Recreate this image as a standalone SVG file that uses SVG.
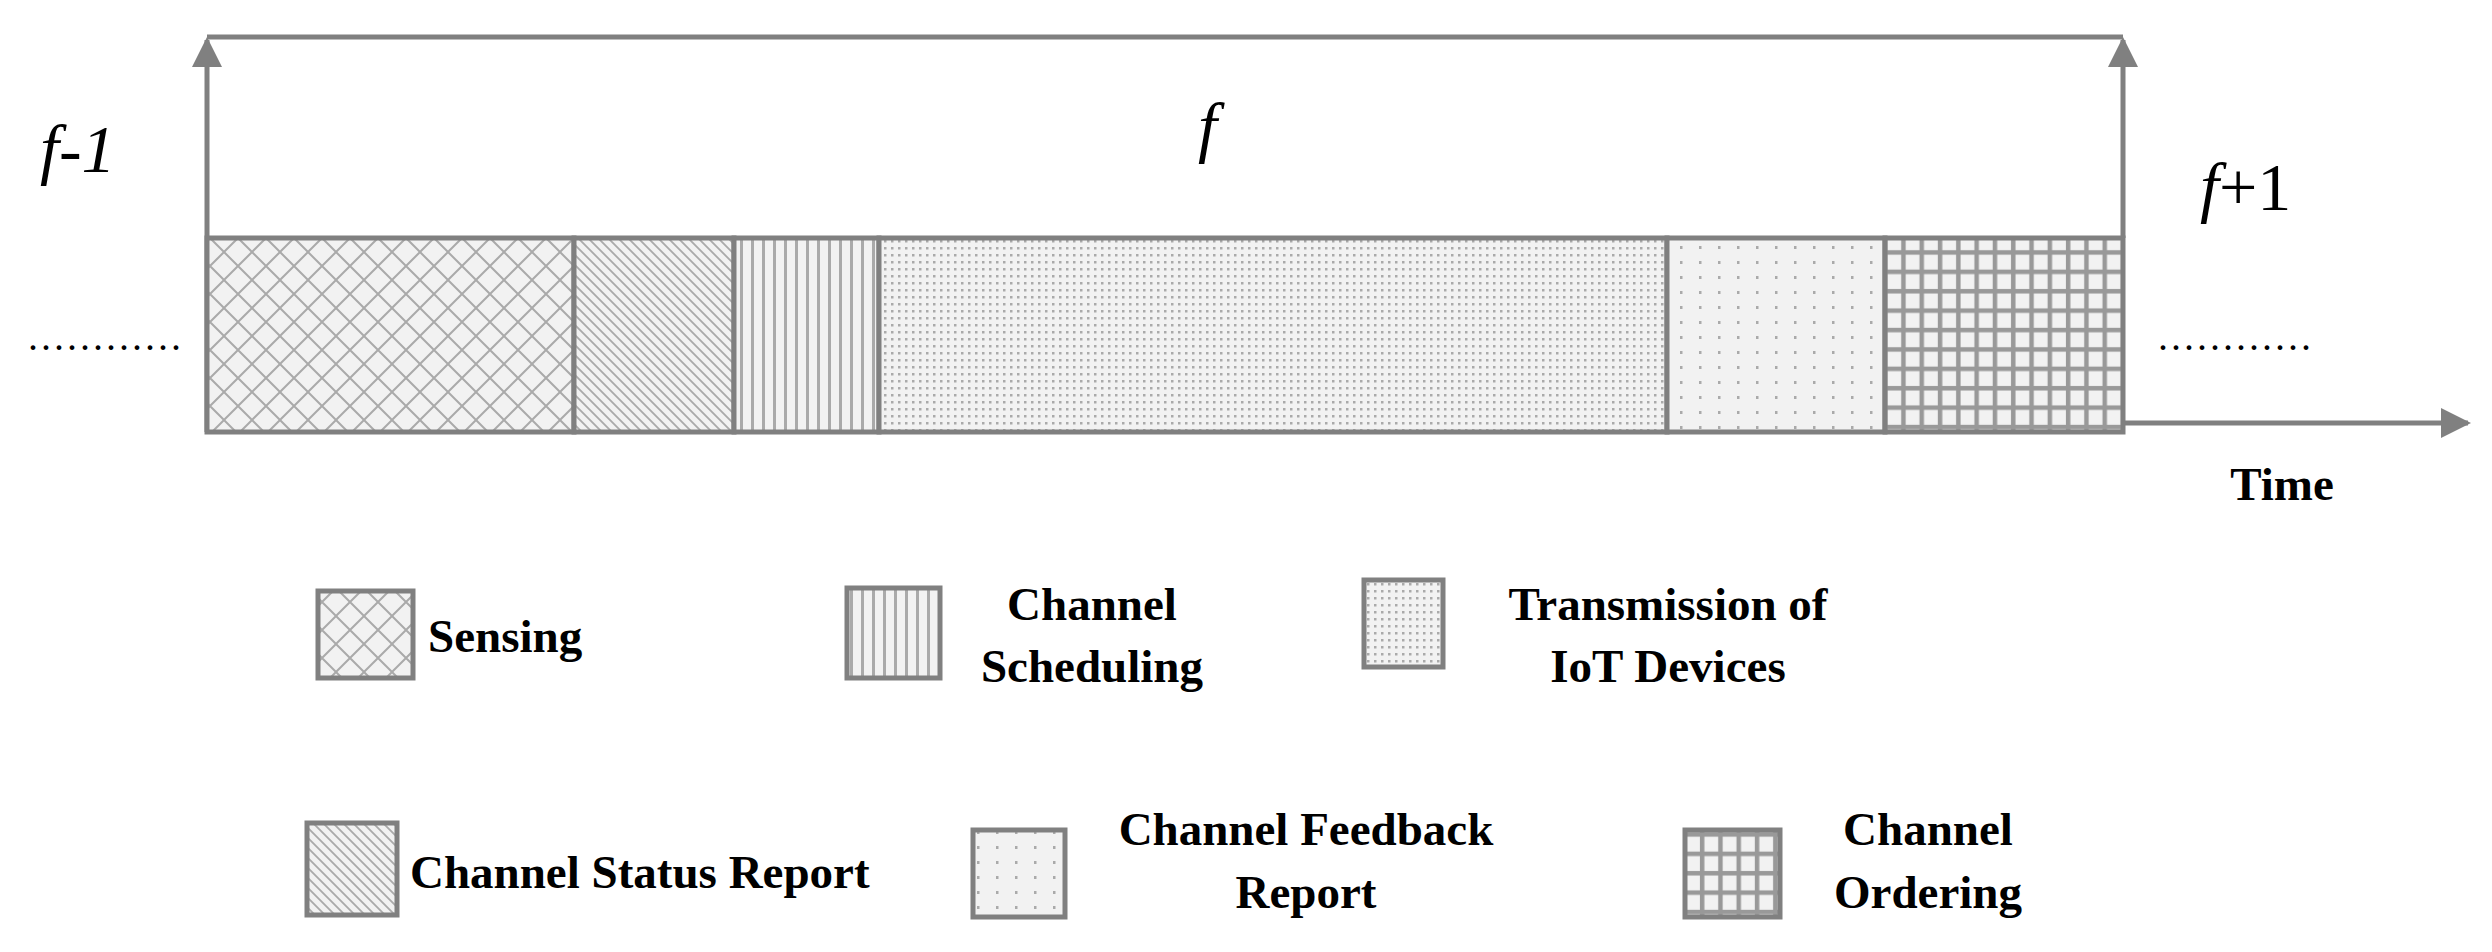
<svg xmlns="http://www.w3.org/2000/svg" width="2492" height="952" viewBox="0 0 2492 952">
<style>
.t{font-family:"Liberation Serif",serif;font-weight:bold;font-size:47px;fill:#000}
.f{font-family:"Liberation Serif",serif;font-size:68px;fill:#000}
.dots{font-family:"Liberation Serif",serif;font-size:40px;fill:#000;letter-spacing:3px}
.box{stroke:#808080;stroke-width:5}
.ln{stroke:#808080;stroke-width:5;fill:none}
</style>
<defs>
<marker id="ah" viewBox="0 0 10 10" refX="9" refY="5" markerWidth="6" markerHeight="6" markerUnits="strokeWidth" orient="auto"><path d="M0,0L10,5L0,10z" fill="#808080"/></marker>
<pattern id="pX" width="28" height="28" patternUnits="userSpaceOnUse"><rect width="28" height="28" fill="#f2f2f2"/><path d="M0,0L28,28M28,0L0,28" stroke="#aaa" stroke-width="2"/></pattern>
<pattern id="pD" width="10" height="10" patternUnits="userSpaceOnUse"><rect width="10" height="10" fill="#f2f2f2"/><path d="M-5,-5L15,15M-5,5L5,15M5,-5L15,5" stroke="#aaa" stroke-width="1.8"/></pattern>
<pattern id="pV" width="11" height="10" patternUnits="userSpaceOnUse"><rect width="11" height="10" fill="#f2f2f2"/><rect x="3" width="3" height="10" fill="#aaa"/></pattern>
<pattern id="pF" width="7" height="7" patternUnits="userSpaceOnUse"><rect width="7" height="7" fill="#f2f2f2"/><rect x="2" y="2" width="2.5" height="2.5" fill="#aaa"/></pattern>
<pattern id="pS" width="19" height="15" patternUnits="userSpaceOnUse"><rect width="19" height="15" fill="#f2f2f2"/><rect x="8" y="6" width="2.5" height="3" fill="#aaa"/></pattern>
<pattern id="pG" width="18.3" height="19.4" patternUnits="userSpaceOnUse"><rect width="18.3" height="19.4" fill="#999"/><rect x="2.5" y="2.5" width="13.8" height="14.9" fill="#f2f2f2"/></pattern>
</defs>
<g id="connectors">
<line class="ln" x1="207" y1="37" x2="2123" y2="37"/>
<line class="ln" x1="207" y1="432" x2="207" y2="40" marker-end="url(#ah)"/>
<line class="ln" x1="2123" y1="238" x2="2123" y2="40" marker-end="url(#ah)"/>
<line class="ln" x1="2123" y1="423" x2="2468" y2="423" marker-end="url(#ah)"/>
</g>
<g id="frame">
<rect id="seg-sensing" class="box" x="207" y="238" width="367" height="194" fill="url(#pX)"/>
<rect id="seg-status" class="box" x="574" y="238" width="160" height="194" fill="url(#pD)"/>
<rect id="seg-sched" class="box" x="734" y="238" width="145" height="194" fill="url(#pV)"/>
<rect id="seg-trans" class="box" x="879" y="238" width="788" height="194" fill="url(#pF)"/>
<rect id="seg-feedback" class="box" x="1667" y="238" width="218" height="194" fill="url(#pS)"/>
<rect id="seg-order" class="box" x="1885" y="238" width="238" height="194" fill="url(#pG)"/>
</g>
<text class="f" x="40" y="172"><tspan font-style="italic">f</tspan>-<tspan font-style="italic">1</tspan></text>
<text class="f" x="1198" y="150" font-style="italic">f</text>
<text class="f" x="2200" y="210"><tspan font-style="italic">f</tspan>+1</text>
<text class="dots" x="28" y="350">............</text>
<text class="dots" x="2158" y="350">............</text>
<text class="t" x="2282" y="500" text-anchor="middle">Time</text>
<g id="legend-sensing"><rect class="box" x="318" y="591" width="95" height="87" fill="url(#pX)"/><text class="t" x="428" y="652">Sensing</text></g>
<g id="legend-sched"><rect class="box" x="847" y="588" width="93" height="90" fill="url(#pV)"/><text class="t" x="1092" y="620" text-anchor="middle">Channel</text><text class="t" x="1092" y="682" text-anchor="middle">Scheduling</text></g>
<g id="legend-trans"><rect class="box" x="1364" y="580" width="79" height="87" fill="url(#pF)"/><text class="t" x="1668" y="620" text-anchor="middle">Transmission of</text><text class="t" x="1668" y="682" text-anchor="middle">IoT Devices</text></g>
<g id="legend-status"><rect class="box" x="307" y="823" width="90" height="92" fill="url(#pD)"/><text class="t" x="410" y="888">Channel Status Report</text></g>
<g id="legend-feedback"><rect class="box" x="973" y="830" width="92" height="87" fill="url(#pS)"/><text class="t" x="1306" y="845" text-anchor="middle">Channel Feedback</text><text class="t" x="1306" y="908" text-anchor="middle">Report</text></g>
<g id="legend-order"><rect class="box" x="1685" y="830" width="95" height="87" fill="url(#pG)"/><text class="t" x="1928" y="845" text-anchor="middle">Channel</text><text class="t" x="1928" y="908" text-anchor="middle">Ordering</text></g>
</svg>
